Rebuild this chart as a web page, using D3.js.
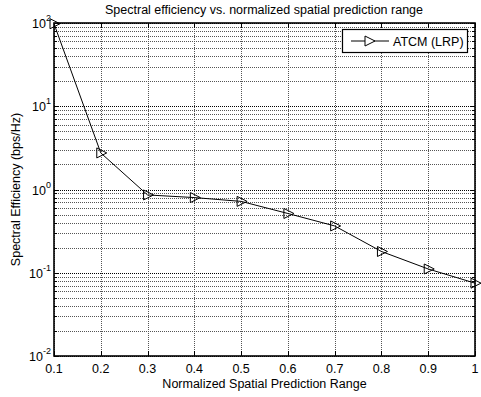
<!DOCTYPE html>
<html>
<head>
<meta charset="utf-8">
<script src="https://cdn.jsdelivr.net/npm/d3@7"></script>
<style>
  body { margin: 0; background: #fff; }
  text { font-family: "Liberation Sans", Arial, sans-serif; fill: #000; }
</style>
</head>
<body>
<div id="chart"></div>
<script>
const width = 481;
const height = 397;
const margin = { left: 54, right: 6, top: 23, bottom: 41 };
const w = width - margin.left - margin.right;
const h = height - margin.top - margin.bottom;

// data
const range = [0.1, 0.2, 0.3, 0.4, 0.5, 0.6, 0.7, 0.8, 0.9, 1.0];
const efficiency = [98, 2.75, 0.86, 0.80, 0.72, 0.515, 0.365, 0.18, 0.111, 0.075];
const xTicks = [0.1, 0.2, 0.3, 0.4, 0.5, 0.6, 0.7, 0.8, 0.9, 1];
const yDecades = [-2, -1, 0, 1, 2];
const seriesName = 'ATCM (LRP)';

const svg = d3.select('#chart')
  .append('svg')
    .attr('width', width)
    .attr('height', height)
  .append('g')
    .attr('transform', 'translate(' + margin.left + ',' + margin.top + ')');

const x = d3.scaleLinear().domain([0.1, 1]).range([0, w]);
const y = d3.scaleLog().domain([0.01, 100]).range([h, 0]);

// minor values 2..9 per decade
let minors = [];
yDecades.slice(0, -1).forEach(e => {
  for (let k = 2; k <= 9; k++) minors.push(k * Math.pow(10, e));
});

// grid
svg.selectAll('.gminor').data(minors).enter().append('line')
  .attr('x1', 0).attr('x2', w)
  .attr('y1', d => Math.round(y(d)) + 0.5).attr('y2', d => Math.round(y(d)) + 0.5)
  .style('stroke', '#555').style('stroke-dasharray', '1,1').style('stroke-width', 1);
svg.selectAll('.gmajor').data(yDecades).enter().append('line')
  .attr('x1', 0).attr('x2', w)
  .attr('y1', d => Math.round(y(Math.pow(10, d))) + 0.5).attr('y2', d => Math.round(y(Math.pow(10, d))) + 0.5)
  .style('stroke', '#000').style('stroke-dasharray', '1,1').style('stroke-width', 1);
svg.selectAll('.gx').data(xTicks).enter().append('line')
  .attr('y1', 0).attr('y2', h)
  .attr('x1', d => Math.round(x(d)) + 0.5).attr('x2', d => Math.round(x(d)) + 0.5)
  .style('stroke', '#555').style('stroke-dasharray', '1,1').style('stroke-width', 1);

// ticks (inward, both sides)
xTicks.forEach(d => {
  const px = Math.round(x(d)) + 0.5;
  svg.append('line').attr('x1', px).attr('x2', px).attr('y1', h).attr('y2', h - 5).style('stroke', '#000');
  svg.append('line').attr('x1', px).attr('x2', px).attr('y1', 0).attr('y2', 5).style('stroke', '#000');
});
yDecades.forEach(e => {
  const py = Math.round(y(Math.pow(10, e))) + 0.5;
  svg.append('line').attr('x1', 0).attr('x2', 5).attr('y1', py).attr('y2', py).style('stroke', '#000');
  svg.append('line').attr('x1', w).attr('x2', w - 5).attr('y1', py).attr('y2', py).style('stroke', '#000');
});
minors.forEach(d => {
  const py = Math.round(y(d)) + 0.5;
  svg.append('line').attr('x1', 0).attr('x2', 3).attr('y1', py).attr('y2', py).style('stroke', '#000');
  svg.append('line').attr('x1', w).attr('x2', w - 3).attr('y1', py).attr('y2', py).style('stroke', '#000');
});

// box
svg.append('rect')
  .attr('x', 0).attr('y', 0).attr('width', w).attr('height', h)
  .style('fill', 'none').style('stroke', '#000').style('stroke-width', 1.6);

// tick labels
svg.selectAll('.xl').data(xTicks).enter().append('text')
  .attr('x', d => x(d)).attr('y', h + 17)
  .attr('text-anchor', 'middle').style('font-size', '12.5px')
  .text(d => d3.format('~g')(d));

yDecades.forEach(e => {
  const py = y(Math.pow(10, e));
  const t = svg.append('text')
    .attr('x', -3).attr('y', py + 5)
    .attr('text-anchor', 'end').style('font-size', '12.5px');
  t.append('tspan').text('10');
  t.append('tspan').attr('dy', -7).style('font-size', '9px').text(e);
  // right-align whole label at -3
  const bb = t.node().getBBox();
  t.attr('text-anchor', 'start').attr('x', -3 - bb.width);
});

// series
const pts = range.map((r, i) => [r, efficiency[i]]);
svg.append('path')
  .datum(pts)
  .attr('d', d3.line().x(d => x(d[0])).y(d => y(d[1])))
  .style('fill', 'none').style('stroke', '#000').style('stroke-width', 1);

const tri = 'M-4,-5 L6,0 L-4,5 Z';
svg.selectAll('.mk').data(pts).enter().append('path')
  .attr('d', tri)
  .attr('transform', d => `translate(${x(d[0])},${y(d[1])})`)
  .style('fill', 'none').style('stroke', '#000').style('stroke-width', 1);

// legend
const lg = svg.append('g').attr('transform', `translate(${w - 133},${6})`);
lg.append('rect').attr('x', 0.5).attr('y', 0.5).attr('width', 125).attr('height', 23)
  .style('fill', '#fff').style('stroke', '#000').style('stroke-width', 1.2);
lg.append('line').attr('x1', 9).attr('x2', 47).attr('y1', 12).attr('y2', 12).style('stroke', '#000');
lg.append('path').attr('d', tri).attr('transform', 'translate(27,12)')
  .style('fill', '#fff').style('stroke', '#000');
lg.append('text').attr('x', 51).attr('y', 16.5).style('font-size', '12.5px').text(seriesName);

// titles
svg.append('text')
  .attr('x', 210).attr('y', -9)
  .attr('text-anchor', 'middle').style('font-size', '12.5px')
  .text('Spectral efficiency vs. normalized spatial prediction range');
svg.append('text')
  .attr('x', w / 2).attr('y', h + 32)
  .attr('text-anchor', 'middle').style('font-size', '12.5px')
  .text('Normalized Spatial Prediction Range');
svg.append('text')
  .attr('transform', `translate(${-34},${h / 2}) rotate(-90)`)
  .attr('text-anchor', 'middle').style('font-size', '12.5px')
  .text('Spectral Efficiency (bps/Hz)');
</script>
</body>
</html>
